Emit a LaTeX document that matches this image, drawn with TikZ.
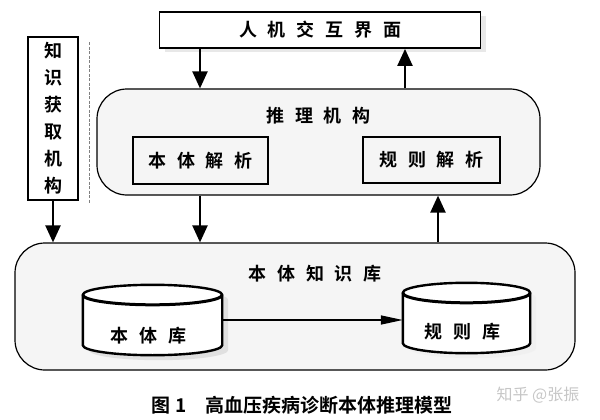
\documentclass[tikz,border=0pt]{standalone}
\usepackage{fontspec}
\newfontfamily\cjk{Noto Sans CJK SC}[BoldFont={* Bold}]
\usepackage{tikz}
\usetikzlibrary{positioning,shadows,arrows.meta,calc}
\newcommand{\jg}{\hspace{0.6em}}
\tikzset{
  box/.style={rectangle, draw, line width=1.8pt, inner sep=0pt},
  roundBox/.style={rectangle, rounded corners=30pt, draw, line width=1.2pt, fill=gray!8, inner sep=0pt},
  title/.style={inner sep=0pt},
  dataBase/.style={rectangle, inner sep=0pt, minimum height=50},
  flowOp/.style={line width=2.2pt, -{Triangle[length=17pt,width=15pt]}},
  mapOp/.style={line width=1.5pt, -{Triangle[length=22pt,width=9pt]}}
}
\begin{document}
\begin{tikzpicture}[x=1pt, y=-1pt, font=\cjk\bfseries\fontsize{18}{27}\selectfont]
  \useasboundingbox (0,0) rectangle (600,420);
  \node [box, fill=white, minimum width=321, minimum height=36,
         drop shadow={shadow xshift=5pt, shadow yshift=-4pt, fill=gray!35}] (hci) at (320,30) {人\jg 机\jg 交\jg 互\jg 界\jg 面};
  \node [box, fill=white, minimum width=50, minimum height=163, align=center] (know) at (53,118.5) {知\\识\\获\\取\\机\\构};
  \draw [gray, line width=0.6pt, dash pattern=on 3pt off 1.5pt] ($(know.north east)+(10,6)$) -- ($(know.south east)+(10,3)$);

  \node [roundBox, minimum width=443, minimum height=106] (infer) at (318.5,142) {};
  \node [title, below=19pt of infer.north] (inferTitle) {推\jg 理\jg 机\jg 构};
  \node [box, line width=1.5pt, minimum width=135, minimum height=47] (ontoParse) at (200.5,160.5) {本\jg 体\jg 解\jg 析};
  \node [box, line width=1.5pt, minimum width=137, minimum height=46] (ruleParse) at (431.5,160) {规\jg 则\jg 解\jg 析};

  \node [roundBox, minimum width=560, minimum height=127] (base) at (295,306.5) {};
  \node [title, below=23pt of base.north, xshift=20pt] (baseTitle) {本\jg 体\jg 知\jg 识\jg 库};
  \node [dataBase, minimum width=139] (ontoDB) at (152.5,330) {};
  \node [dataBase, minimum width=127] (ruleDB) at (466.5,328) {};
  \foreach \db/\sh in {ontoDB/gray!40, ruleDB/gray!15} {
    \draw [line width=2.4pt, fill=white, drop shadow={shadow xshift=6pt, shadow yshift=-5pt, fill=\sh}]
      let \p1=($(\db.east)-(\db.west)$) in
      ($(\db.north west)+(0,-10)$) -- ($(\db.south west)+(0,-10)$)
      arc [start angle=180, end angle=360, x radius=0.5*\x1, y radius=10pt]
      -- ($(\db.north east)+(0,-10)$)
      arc [start angle=0, end angle=180, x radius=0.5*\x1, y radius=10pt] -- cycle;
    \draw [line width=3pt] let \p1=($(\db.east)-(\db.west)$) in
      ($(\db.north west)+(0,-10)$) arc [start angle=180, end angle=360, x radius=0.5*\x1, y radius=10pt];
  }
  \node [title] at ($(ontoDB)+(-4,6)$) {本\jg 体\jg 库};
  \node [title] at ($(ruleDB)+(-4,4)$) {规\jg 则\jg 库};

  \coordinate (colB) at (200,0);
  \coordinate (colC) at (405,0);
  \coordinate (colD) at (438,0);
  \draw [flowOp] (hci.south -| colB) -- (infer.north -| colB);
  \draw [flowOp] (infer.north -| colC) -- (hci.south -| colC);
  \draw [flowOp] (infer.south -| colB) -- (base.north -| colB);
  \draw [flowOp] (base.north -| colD) -- (infer.south -| colD);
  \draw [flowOp] (know.south) -- (base.north -| know.south);
  \draw [mapOp] ($(ontoDB.east)+(0,-10)$) -- ($(ruleDB.west)+(0,-8)$);

  \node (caption) at (302,405) {\fontsize{19}{19}\selectfont 图\hspace{0.3em}1\hspace{1em}高血压疾病诊断本体推理模型};
  \node [text=gray!45, font=\cjk\fontsize{16}{16}\selectfont] (mark) at (538,395) {知乎 @张振};
\end{tikzpicture}
\end{document}
